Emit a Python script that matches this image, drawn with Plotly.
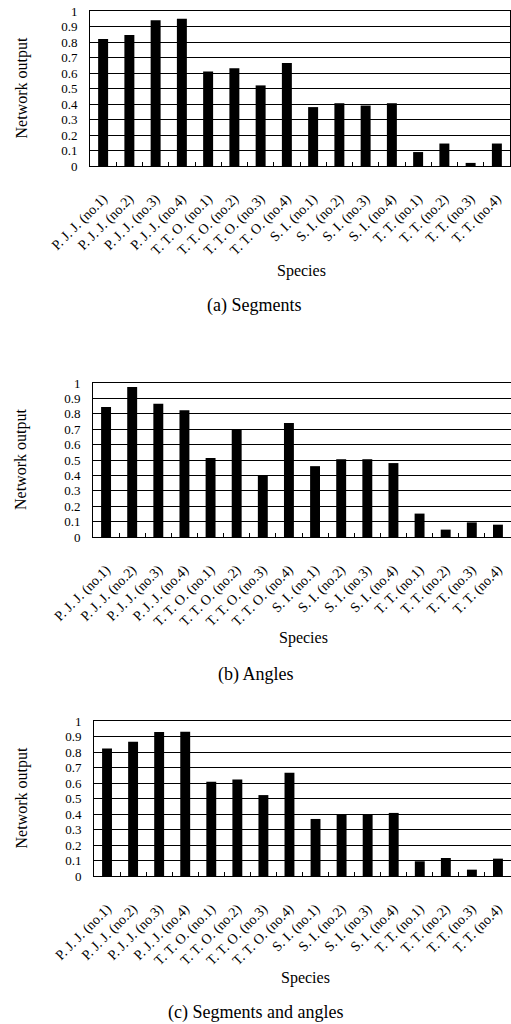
import plotly.graph_objects as go

categories = ["P. J. J. (no.1)", "P. J. J. (no.2)", "P. J. J. (no.3)", "P. J. J. (no.4)",
              "T. T. O. (no.1)", "T. T. O. (no.2)", "T. T. O. (no.3)", "T. T. O. (no.4)",
              "S. I. (no.1)", "S. I. (no.2)", "S. I. (no.3)", "S. I. (no.4)",
              "T. T. (no.1)", "T. T. (no.2)", "T. T. (no.3)", "T. T. (no.4)"]

segments = [0.82, 0.845, 0.94, 0.95, 0.61, 0.63, 0.52, 0.665,
            0.38, 0.405, 0.39, 0.405, 0.09, 0.145, 0.02, 0.145]
angles = [0.844, 0.974, 0.866, 0.823, 0.513, 0.70, 0.40, 0.74,
          0.46, 0.505, 0.505, 0.48, 0.152, 0.048, 0.095, 0.08]
seg_and_angles = [0.823, 0.866, 0.929, 0.931, 0.608, 0.623, 0.522, 0.666,
                  0.368, 0.399, 0.399, 0.407, 0.095, 0.116, 0.041, 0.112]

captions = ["(a) Segments", "(b) Angles", "(c) Segments and angles"]
y_ticks = [0, 0.1, 0.2, 0.3, 0.4, 0.5, 0.6, 0.7, 0.8, 0.9, 1]
y_ticktext = ["0", "0.1", "0.2", "0.3", "0.4", "0.5", "0.6", "0.7", "0.8", "0.9", "1"]

W, H = 511, 1024
FONT = "Liberation Serif"

# pixel layout of each panel: (left, right, top, bottom)
panels = [(90, 510, 11, 166), (93, 511, 383, 537), (94, 511, 721, 876)]
species_pos = [(301, 271), (303, 638), (305, 978)]
caption_pos = [(254, 305), (256, 674), (255, 1012)]

series = [segments, angles, seg_and_angles]

fig = go.Figure()
annotations = []
for i, (vals, (l, r, t, b)) in enumerate(zip(series, panels)):
    n = "" if i == 0 else str(i + 1)
    fig.add_trace(go.Bar(x=categories, y=vals, marker=dict(color="black", line=dict(width=0)),
                         xaxis="x" + n, yaxis="y" + n, showlegend=False, hoverinfo="skip"))
    xa = dict(domain=[l / W, r / W], anchor="y" + n, showline=True, mirror=True,
              linecolor="black", linewidth=1, ticks="inside", tickson="boundaries",
              ticklen=4, tickcolor="black", tickangle=-45, showgrid=False,
              tickfont=dict(family=FONT, size=14, color="black"),
              ticklabelstandoff=18, fixedrange=True, automargin=False)
    ya = dict(domain=[1 - b / H, 1 - t / H], anchor="x" + n, range=[0, 1],
              tickvals=y_ticks, ticktext=y_ticktext, showline=True, mirror=True,
              linecolor="black", linewidth=1, showgrid=True, gridcolor="black",
              gridwidth=1, ticks="", zeroline=False,
              tickfont=dict(family=FONT, size=13, color="black"),
              ticklabelstandoff=9, fixedrange=True, automargin=False)
    fig.update_layout(**{"xaxis" + n: xa, "yaxis" + n: ya})
    annotations.append(dict(text="Network output", x=21 / W, y=1 - (t + b) / 2 / H,
                            xref="paper", yref="paper", textangle=-90, showarrow=False,
                            xanchor="center", yanchor="middle",
                            font=dict(family=FONT, size=16, color="black")))
    sx, sy = species_pos[i]
    annotations.append(dict(text="Species", x=sx / W, y=1 - sy / H, xref="paper", yref="paper",
                            showarrow=False, xanchor="center", yanchor="middle",
                            font=dict(family=FONT, size=16, color="black")))
    cx, cy = caption_pos[i]
    annotations.append(dict(text=captions[i], x=cx / W, y=1 - cy / H, xref="paper", yref="paper",
                            showarrow=False, xanchor="center", yanchor="middle",
                            font=dict(family=FONT, size=18, color="black")))

fig.update_layout(width=W, height=H, margin=dict(l=0, r=0, t=0, b=0, autoexpand=False),
                  paper_bgcolor="white", plot_bgcolor="white", bargap=0.62,
                  annotations=annotations, font=dict(family=FONT, color="black"))

fig.write_html("out.html", config={"displayModeBar": False},
               post_script="document.body.style.margin='0';document.body.style.overflow='hidden';")
